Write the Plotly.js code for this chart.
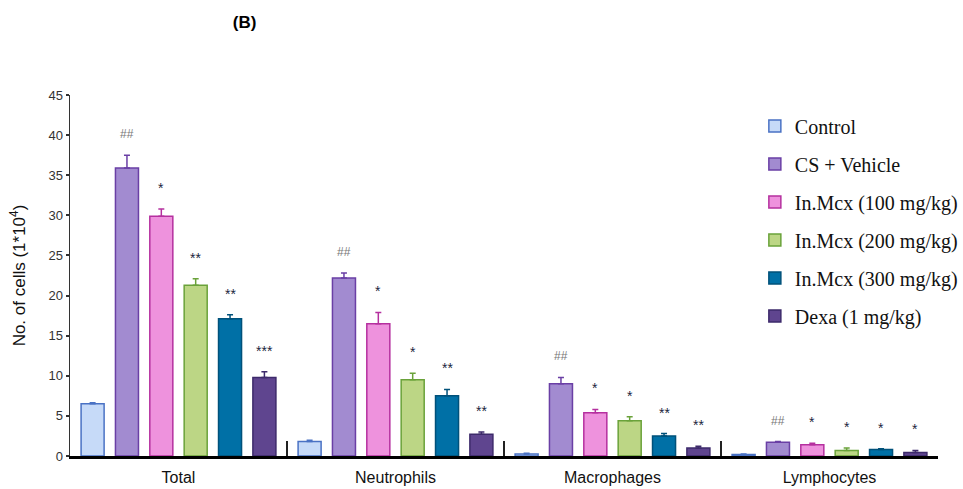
<!DOCTYPE html>
<html>
<head>
<meta charset="utf-8">
<script src="https://cdn.plot.ly/plotly-3.0.1.min.js"></script>
<style>html,body{margin:0;padding:0;background:#fff;}#chart{width:963px;height:489px;}</style>
</head>
<body>
<div id="chart"></div>
<script>
// ---- Data ----
const categories = ['Total', 'Neutrophils', 'Macrophages', 'Lymphocytes'];
const seriesNames = ['Control', 'CS + Vehicle', 'In.Mcx (100 mg/kg)', 'In.Mcx (200 mg/kg)', 'In.Mcx (300 mg/kg)', 'Dexa (1 mg/kg)'];

const controlMean = [6.5, 1.8, 0.25, 0.2];
const controlErr  = [0.15, 0.15, 0.1, 0.05];
const vehicleMean = [35.9, 22.2, 9.0, 1.7];
const vehicleErr  = [1.6, 0.6, 0.8, 0.1];
const mcx100Mean  = [29.9, 16.5, 5.4, 1.4];
const mcx100Err   = [0.9, 1.4, 0.4, 0.2];
const mcx200Mean  = [21.3, 9.5, 4.4, 0.7];
const mcx200Err   = [0.8, 0.8, 0.5, 0.3];
const mcx300Mean  = [17.1, 7.5, 2.5, 0.8];
const mcx300Err   = [0.5, 0.8, 0.3, 0.1];
const dexaMean    = [9.8, 2.7, 1.0, 0.45];
const dexaErr     = [0.7, 0.3, 0.2, 0.25];

const controlSig = ['', '', '', ''];
const vehicleSig = ['##', '##', '##', '##'];
const mcx100Sig  = ['*', '*', '*', '*'];
const mcx200Sig  = ['**', '*', '*', '*'];
const mcx300Sig  = ['**', '**', '**', '*'];
const dexaSig    = ['***', '**', '**', '*'];

// ---- Styles ----
const fills = ['#c6daf8', '#a28bd0', '#ee92dd', '#bcd685', '#0070a6', '#5f458f'];
const lines = ['#4a72c4', '#6a3fa5', '#b5309f', '#6aa23a', '#00517a', '#3d2a6b'];

const means = [controlMean, vehicleMean, mcx100Mean, mcx200Mean, mcx300Mean, dexaMean];
const errs  = [controlErr, vehicleErr, mcx100Err, mcx200Err, mcx300Err, dexaErr];
const sigs  = [controlSig, vehicleSig, mcx100Sig, mcx200Sig, mcx300Sig, dexaSig];

const traces = seriesNames.map((name, i) => ({
  type: 'bar',
  name: name,
  legendgroup: 'g' + i,
  x: categories,
  y: means[i],
  marker: { color: fills[i], line: { color: lines[i], width: 1.5 } },
  error_y: { type: 'data', symmetric: false, array: errs[i], arrayminus: means[i].map(() => 0),
             color: lines[i], thickness: 1.5, width: 3 }
}));

const W = 963, H = 489;
const margin = { l: 70, r: 25, t: 95, b: 33, autoexpand: false };
const bargap = 0.05;
const plotW = W - margin.l - margin.r;
const catW = plotW / categories.length;
const pitch = catW * (1 - bargap) / seriesNames.length;

const annotations = [];
sigs.forEach((arr, i) => {
  arr.forEach((txt, j) => {
    if (!txt) return;
    const isHash = txt.indexOf('#') >= 0;
    annotations.push({
      x: categories[j], y: means[i][j] + errs[i][j], xref: 'x', yref: 'y',
      text: txt, showarrow: false, xshift: (i - (seriesNames.length - 1) / 2) * pitch,
      yshift: 21, yanchor: 'middle',
      font: { family: 'Liberation Sans, Arial, sans-serif', size: isHash ? 12 : 14, color: isHash ? '#777' : '#1a2540' }
    });
  });
});

const layout = {
  width: W, height: H,
  margin: margin,
  paper_bgcolor: '#fff', plot_bgcolor: '#fff',
  barmode: 'group', bargap: bargap, bargroupgap: 0.33,
  title: { text: '<b>(B)</b>', xref: 'container', yref: 'container', x: 0.254, xanchor: 'center', y: 0.955, yanchor: 'middle',
           font: { family: 'Liberation Sans, Arial, sans-serif', size: 17, color: '#000' } },
  xaxis: {
    type: 'category', showline: true, linecolor: '#000', linewidth: 3,
    ticks: 'inside', tickson: 'boundaries', ticklen: 15, tickwidth: 1.5, tickcolor: '#222',
    ticklabelstandoff: 5,
    tickfont: { family: 'Liberation Sans, Arial, sans-serif', size: 16, color: '#111' },
    showgrid: false, zeroline: false, fixedrange: true
  },
  yaxis: {
    range: [0, 45], dtick: 5, showline: true, linecolor: '#333', linewidth: 1.5,
    ticks: 'outside', ticklen: 3, tickwidth: 2, tickcolor: '#333',
    tickfont: { family: 'Liberation Sans Narrow, Arial Narrow, Liberation Sans, sans-serif', size: 13, color: '#333' },
    showgrid: false, zeroline: false,
    title: { text: 'No. of cells (1*10<sup>4</sup>)', standoff: 18,
             font: { family: 'Liberation Sans, Arial, sans-serif', size: 17, color: '#111' } }
  },
  showlegend: true,
  legend: {
    x: 0.789, xanchor: 'left', y: 0.968, yanchor: 'top',
    bgcolor: 'rgba(0,0,0,0)', tracegroupgap: 9,
    font: { family: 'Liberation Serif, Times New Roman, serif', size: 20, color: '#111' }
  },
  annotations: annotations
};

Plotly.newPlot('chart', traces, layout, { displayModeBar: false, staticPlot: true });
</script>
</body>
</html>
